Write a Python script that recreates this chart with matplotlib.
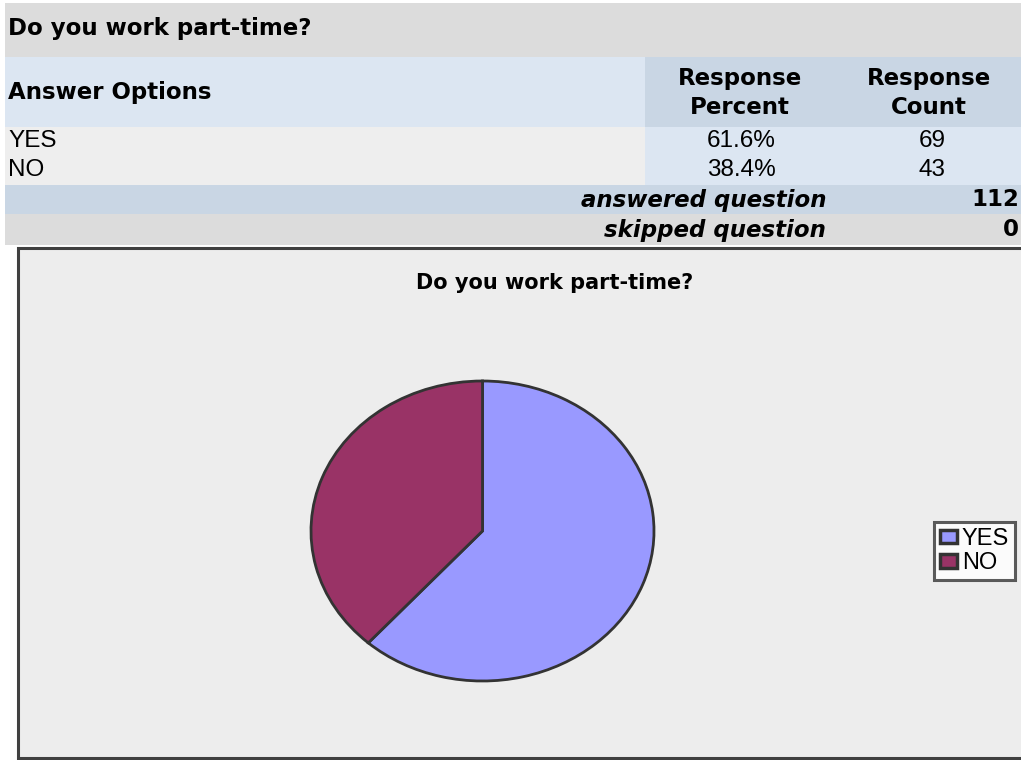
import matplotlib
matplotlib.use("Agg")
from matplotlib import pyplot as plt
from matplotlib.patches import Rectangle

question = "Do you work part-time?"
answers = ["YES", "NO"]
percents = [61.6, 38.4]
counts = [69, 43]
answered = 112
skipped = 0
colors = ["#9999FF", "#993366"]

W, H = 1021, 760
plt.rcParams['font.family'] = ['Liberation Sans', 'DejaVu Sans']
fig = plt.figure(figsize=(W / 100, H / 100), dpi=100)
fig.patch.set_facecolor("white")

bold = dict(family=['DejaVu Sans'], fontweight="bold", fontsize=16.5)
reg = dict(fontsize=17.5)


def px(x, y):
    # pixel coords (top-left origin) -> figure fraction
    return x / W, 1 - y / H


def box(x0, y0, x1, y1, color, **kw):
    fig.patches.append(Rectangle((x0 / W, 1 - y1 / H), (x1 - x0) / W, (y1 - y0) / H,
                                 transform=fig.transFigure, facecolor=color,
                                 edgecolor=kw.get("ec", "none"), lw=kw.get("lw", 0),
                                 zorder=kw.get("z", 0)))


def txt(x, y, s, **kw):
    fig.text(*px(x, y), s, va="center", **kw)


# table backgrounds
box(5, 3, 1021, 57, "#DCDCDC")
box(5, 57, 645, 127, "#DCE6F2")
box(645, 57, 1021, 127, "#C9D6E4")
box(5, 127, 645, 185, "#EEEEEE")
box(645, 127, 1021, 185, "#DCE6F2")
box(5, 185, 1021, 214, "#C9D6E4")
box(5, 214, 1021, 245, "#DCDCDC")

txt(8, 29, question, ha="left", **bold)
txt(8, 92, "Answer Options", ha="left", **bold)
txt(740, 78, "Response", ha="center", **bold)
txt(740, 107, "Percent", ha="center", **bold)
txt(929, 78, "Response", ha="center", **bold)
txt(929, 107, "Count", ha="center", **bold)
for i, (a, p, c) in enumerate(zip(answers, percents, counts)):
    y = 141 + i * 29
    txt(8, y, a, ha="left", **reg)
    txt(741, y, f"{p:.1f}%", ha="center", **reg)
    txt(932, y, str(c), ha="center", **reg)
txt(826, 200, "answered question", style="italic", ha="right", **bold)
txt(1019, 200, str(answered), ha="right", **bold)
txt(826, 230, "skipped question", style="italic", ha="right", **bold)
txt(1019, 230, str(skipped), ha="right", **bold)

# chart area
box(18, 248, 1030, 758, "#EDEDED", ec="#404040", lw=2.2, z=1)
txt(555, 283, question, family=['DejaVu Sans'], fontsize=15, fontweight="bold",
    ha="center", zorder=3)

ax = fig.add_axes([311 / W, 1 - 681 / H, 343 / W, 300 / H], zorder=3)
wedges, _ = ax.pie(percents, colors=colors, startangle=90, counterclock=False,
                   wedgeprops=dict(edgecolor="#333333", linewidth=2))
ax.set_aspect("auto")
ax.set_xlim(-1.0, 1.0)
ax.set_ylim(-1.0, 1.0)
ax.axis("off")

leg = fig.legend(wedges, answers, loc="upper left", bbox_to_anchor=px(934, 522),
                 fontsize=17, frameon=True, fancybox=False, handlelength=0.72,
                 handleheight=0.5, handletextpad=0.2, borderpad=0.25,
                 labelspacing=0.1, borderaxespad=0)
leg.get_frame().set_edgecolor("#333333")
leg.get_frame().set_linewidth(2.2)
for h in leg.legend_handles:
    h.set_linewidth(2.5)
leg.set_zorder(4)

fig.savefig("out.png", dpi=100)
